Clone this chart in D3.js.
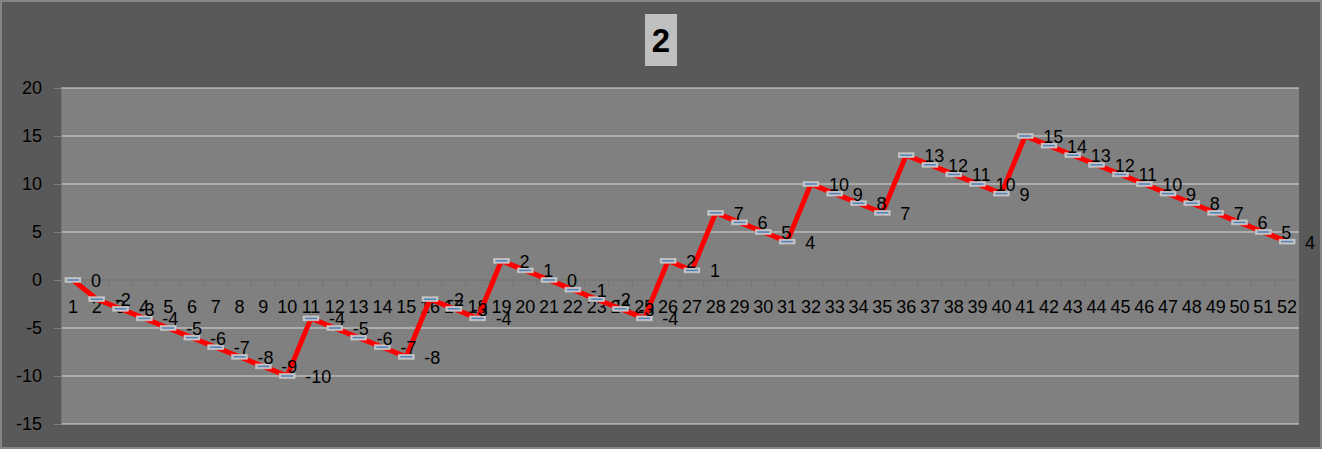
<!DOCTYPE html>
<html>
<head>
<meta charset="utf-8">
<script src="https://cdn.jsdelivr.net/npm/d3@7/dist/d3.min.js"></script>
<style>
  html, body { margin: 0; padding: 0; background: #595959; }
  svg { display: block; }
  text { font-family: "Liberation Sans", Arial, sans-serif; }
</style>
</head>
<body>
<script>
const titleText = "2";
const categories = ["1","2","3","4","5","6","7","8","9","10","11","12","13","14","15","16","17","18","19","20","21","22","23","24","25","26","27","28","29","30","31","32","33","34","35","36","37","38","39","40","41","42","43","44","45","46","47","48","49","50","51","52"];
const values = [0,-2,-3,-4,-5,-6,-7,-8,-9,-10,-4,-5,-6,-7,-8,-2,-3,-4,2,1,0,-1,-2,-3,-4,2,1,7,6,5,4,10,9,8,7,13,12,11,10,9,15,14,13,12,11,10,9,8,7,6,5,4];
const yTicks = [-15,-10,-5,0,5,10,15,20];

const W = 1322, H = 449;
const plot = { left: 61, right: 1299, top: 88, bottom: 424 };

const svg = d3.select("body").append("svg").attr("width", W).attr("height", H);

// outer background + border
svg.append("rect").attr("x", 1).attr("y", 1).attr("width", W - 2).attr("height", H - 2)
  .attr("fill", "#595959").attr("stroke", "#868686").attr("stroke-width", 2);

// title
svg.append("rect").attr("x", 645).attr("y", 14).attr("width", 32).attr("height", 52).attr("fill", "#c0c0c0");
svg.append("text").attr("x", 661).attr("y", 52).attr("text-anchor", "middle")
  .attr("font-size", 33).attr("font-weight", "bold").attr("fill", "#000").text(titleText);

const x = d3.scaleBand().domain(categories).range([plot.left, plot.right]).padding(0);
const xc = d => x(d) + x.bandwidth() / 2;
const y = d3.scaleLinear().domain([-15, 20]).range([plot.bottom, plot.top]);

// plot area
svg.append("rect").attr("x", plot.left).attr("y", plot.top)
  .attr("width", plot.right - plot.left).attr("height", plot.bottom - plot.top).attr("fill", "#808080");

// gridlines
svg.append("g").selectAll("line").data(yTicks.filter(t => t !== 0)).join("line")
  .attr("x1", plot.left).attr("x2", plot.right)
  .attr("y1", d => y(d)).attr("y2", d => y(d))
  .attr("stroke", "#d9d9d9").attr("stroke-width", 1.2);

// y axis
const yAxis = d3.axisLeft(y).tickValues(yTicks).tickSize(7).tickPadding(12).tickFormat(d3.format("d"));
const gy = svg.append("g").attr("transform", `translate(${plot.left},0)`).call(yAxis);
gy.select(".domain").attr("stroke", "#777").attr("stroke-width", 1);
gy.selectAll(".tick line").attr("stroke", "#808080");
gy.selectAll(".tick text").attr("font-size", 18).attr("fill", "#000")
  .attr("font-family", "Liberation Sans, Arial, sans-serif").text(d => d < 0 ? "-" + Math.abs(d) : d);

// x axis at y=0
const y0 = y(0);
svg.append("line").attr("x1", plot.left).attr("x2", plot.right).attr("y1", y0).attr("y2", y0)
  .attr("stroke", "#727272").attr("stroke-width", 1.2);
svg.append("g").selectAll("line").data(categories.slice(1)).join("line")
  .attr("x1", d => x(d)).attr("x2", d => x(d)).attr("y1", y0).attr("y2", y0 + 6)
  .attr("stroke", "#727272").attr("stroke-width", 1);
svg.append("g").selectAll("text").data(categories).join("text")
  .attr("x", d => xc(d)).attr("y", y0 + 33).attr("text-anchor", "middle")
  .attr("font-size", 18).attr("fill", "#000").text(d => d);

// line
const pts = categories.map((c, i) => ({ c, v: values[i] }));
svg.append("path").datum(pts)
  .attr("d", d3.line().x(d => xc(d.c)).y(d => y(d.v)))
  .attr("fill", "none").attr("stroke", "#ff0000").attr("stroke-width", 5).attr("stroke-linejoin", "round");

// markers
const mk = svg.append("g").selectAll("g").data(pts).join("g")
  .attr("transform", d => `translate(${xc(d.c)},${y(d.v)})`);
mk.append("rect").attr("x", -8).attr("y", -2.5).attr("width", 16).attr("height", 5)
  .attr("fill", "#c4c4c4").attr("stroke", "#c4c4c4").attr("stroke-width", 0.5);
mk.append("line").attr("x1", -6).attr("x2", 6).attr("y1", 0).attr("y2", 0)
  .attr("stroke", "#4f81bd").attr("stroke-width", 1.5);

// data labels
svg.append("g").selectAll("text").data(pts).join("text")
  .attr("x", d => xc(d.c) + 18).attr("y", d => y(d.v) + 7)
  .attr("font-size", 18).attr("fill", "#000").text(d => d.v < 0 ? "-" + Math.abs(d.v) : d.v);
</script>
</body>
</html>
